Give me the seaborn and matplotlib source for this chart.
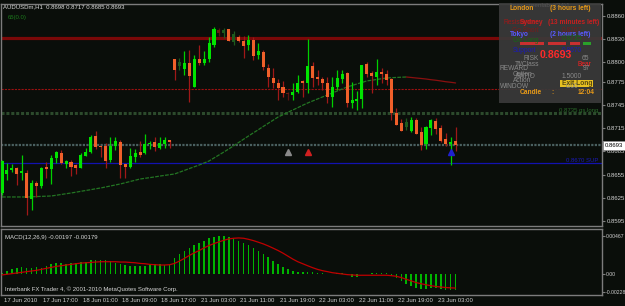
import numpy as np
import pandas as pd
import matplotlib
matplotlib.use("Agg")
import matplotlib.pyplot as plt
import seaborn as sns
from matplotlib.patches import Rectangle

sns.set_style("dark")
plt.rcParams['font.family'] = ['Liberation Sans', 'DejaVu Sans']

# ---------------- data (AUDUSDm, H1) ----------------
opens = [0.8631, 0.8656, 0.8661, 0.8664, 0.8657, 0.8657, 0.8624, 0.8644, 0.8640, 0.8665,
         0.8662, 0.8677, 0.8683, 0.8669, 0.8671, 0.8668, 0.8664, 0.8679, 0.8684, 0.8705,
         0.8692, 0.8692, 0.8674, 0.8692, 0.8697, 0.8669, 0.8665, 0.8678, 0.8684, 0.8683,
         0.8695, 0.8697, 0.8689, 0.8695, 0.8700, 0.8804, 0.8795, 0.8792, 0.8799, 0.8768,
         0.8804, 0.8799, 0.8804, 0.8823, 0.8842, 0.8838, 0.8843, 0.8826, 0.8833, 0.8828,
         0.8823, 0.8829, 0.8810, 0.8814, 0.8793, 0.8780, 0.8773, 0.8768, 0.8761, 0.8758,
         0.8762, 0.8776, 0.8773, 0.8795, 0.8781, 0.8779, 0.8773, 0.8755, 0.8768, 0.8779,
         0.8786, 0.8748, 0.8750, 0.8753, 0.8798, 0.8786, 0.8781, 0.8788, 0.8785, 0.8779,
         0.8735, 0.8722, 0.8717, 0.8711, 0.8726, 0.8710, 0.8695, 0.8715, 0.8724, 0.8715,
         0.8701, 0.8695, 0.8698]
highs = [0.8674, 0.8670, 0.8669, 0.8665, 0.8680, 0.8661, 0.8648, 0.8647, 0.8665, 0.8671,
         0.8680, 0.8686, 0.8687, 0.8674, 0.8674, 0.8669, 0.8683, 0.8689, 0.8706, 0.8711,
         0.8692, 0.8696, 0.8704, 0.8704, 0.8700, 0.8669, 0.8689, 0.8688, 0.8699, 0.8708,
         0.8699, 0.8704, 0.8704, 0.8704, 0.8700, 0.8804, 0.8806, 0.8815, 0.8816, 0.8810,
         0.8823, 0.8815, 0.8833, 0.8846, 0.8845, 0.8845, 0.8843, 0.8841, 0.8835, 0.8834,
         0.8835, 0.8833, 0.8825, 0.8816, 0.8798, 0.8793, 0.8779, 0.8776, 0.8762, 0.8773,
         0.8784, 0.8777, 0.8830, 0.8801, 0.8790, 0.8781, 0.8781, 0.8781, 0.8790, 0.8790,
         0.8788, 0.8775, 0.8763, 0.8797, 0.8801, 0.8789, 0.8804, 0.8793, 0.8790, 0.8780,
         0.8741, 0.8727, 0.8728, 0.8730, 0.8728, 0.8717, 0.8718, 0.8727, 0.8728, 0.8719,
         0.8709, 0.8704, 0.8717]
lows = [0.8629, 0.8648, 0.8658, 0.8642, 0.8648, 0.8603, 0.8609, 0.8626, 0.8638, 0.8651,
        0.8643, 0.8670, 0.8669, 0.8664, 0.8653, 0.8656, 0.8664, 0.8679, 0.8683, 0.8688,
        0.8678, 0.8664, 0.8671, 0.8687, 0.8651, 0.8651, 0.8664, 0.8671, 0.8678, 0.8682,
        0.8688, 0.8686, 0.8688, 0.8689, 0.8689, 0.8777, 0.8790, 0.8784, 0.8749, 0.8768,
        0.8797, 0.8797, 0.8801, 0.8820, 0.8834, 0.8832, 0.8828, 0.8823, 0.8826, 0.8806,
        0.8816, 0.8803, 0.8804, 0.8790, 0.8768, 0.8767, 0.8751, 0.8755, 0.8751, 0.8751,
        0.8761, 0.8755, 0.8761, 0.8768, 0.8771, 0.8764, 0.8748, 0.8742, 0.8764, 0.8773,
        0.8742, 0.8741, 0.8739, 0.8741, 0.8781, 0.8761, 0.8771, 0.8773, 0.8771, 0.8726,
        0.8719, 0.8711, 0.8713, 0.8710, 0.8708, 0.8687, 0.8688, 0.8706, 0.8708, 0.8697,
        0.8692, 0.8668, 0.8685]
closes = [0.8673, 0.8661, 0.8664, 0.8656, 0.8660, 0.8625, 0.8644, 0.8640, 0.8664, 0.8662,
          0.8677, 0.8684, 0.8670, 0.8673, 0.8665, 0.8664, 0.8680, 0.8684, 0.8704, 0.8691,
          0.8691, 0.8673, 0.8692, 0.8699, 0.8668, 0.8665, 0.8679, 0.8683, 0.8680, 0.8695,
          0.8696, 0.8691, 0.8696, 0.8700, 0.8697, 0.8790, 0.8801, 0.8799, 0.8783, 0.8804,
          0.8799, 0.8804, 0.8825, 0.8843, 0.8838, 0.8842, 0.8828, 0.8837, 0.8828, 0.8821,
          0.8829, 0.8808, 0.8815, 0.8794, 0.8781, 0.8773, 0.8767, 0.8761, 0.8759, 0.8762,
          0.8773, 0.8773, 0.8795, 0.8780, 0.8779, 0.8773, 0.8755, 0.8768, 0.8780, 0.8785,
          0.8748, 0.8751, 0.8753, 0.8797, 0.8785, 0.8783, 0.8788, 0.8785, 0.8777, 0.8735,
          0.8719, 0.8711, 0.8723, 0.8726, 0.8708, 0.8693, 0.8717, 0.8726, 0.8714, 0.8699,
          0.8695, 0.8697, 0.8693]
dim_bars = [36, 44, 45, 47, 58, 82]
ma_values = [0.86262, 0.86262, 0.86262, 0.86262, 0.86262, 0.86262, 0.86264, 0.86267, 0.86270, 0.86272,
             0.86275, 0.86284, 0.86294, 0.86304, 0.86313, 0.86324, 0.86335, 0.86346, 0.86356, 0.86368,
             0.86378, 0.86391, 0.86404, 0.86417, 0.86430, 0.86446, 0.86462, 0.86478, 0.86494, 0.86503,
             0.86512, 0.86521, 0.86532, 0.86541, 0.86550, 0.86559, 0.86582, 0.86605, 0.86629, 0.86652,
             0.86675, 0.86701, 0.86727, 0.86766, 0.86804, 0.86843, 0.86882, 0.86924, 0.86966, 0.87008,
             0.87050, 0.87091, 0.87131, 0.87173, 0.87214, 0.87254, 0.87295, 0.87325, 0.87356, 0.87386,
             0.87416, 0.87447, 0.87476, 0.87502, 0.87528, 0.87554, 0.87580, 0.87605, 0.87631, 0.87657,
             0.87683, 0.87702, 0.87722, 0.87741, 0.87761, 0.87770, 0.87780, 0.87790, 0.87799, 0.87803,
             0.87806, 0.87809, 0.87812, 0.87806, 0.87799, 0.87793, 0.87786, 0.87777, 0.87770, 0.87761,
             0.87751, 0.87744, 0.87735]
macd_hist = [0.00004, 0.00033, 0.00061, 0.00074, 0.00082, 0.00066, 0.00074, 0.00082, 0.00074, 0.00094,
             0.00115, 0.00135, 0.00135, 0.00123, 0.00127, 0.00135, 0.00143, 0.00147, 0.00164, 0.00164,
             0.00164, 0.00164, 0.00156, 0.00135, 0.00123, 0.00102, 0.00094, 0.00094, 0.00094, 0.00094,
             0.00106, 0.00123, 0.00123, 0.00106, 0.00106, 0.00197, 0.00246, 0.00287, 0.00319, 0.00360,
             0.00381, 0.00410, 0.00442, 0.00455, 0.00463, 0.00463, 0.00451, 0.00430, 0.00410, 0.00381,
             0.00352, 0.00319, 0.00287, 0.00246, 0.00205, 0.00156, 0.00115, 0.00082, 0.00053, 0.00033,
             0.00020, 0.00020, 0.00020, 0.00020, 0.00012, 0.00004, -0.00008, 0.00000, 0.00008, 0.00012,
             -0.00016, -0.00041, -0.00041, -0.00008, 0.00000, 0.00004, 0.00008, 0.00008, 0.00008, -0.00016,
             -0.00057, -0.00090, -0.00131, -0.00152, -0.00172, -0.00193, -0.00193, -0.00184, -0.00184, -0.00193,
             -0.00201, -0.00205, -0.00197]
macd_signal = [-0.00016, -0.00008, 0.00000, 0.00008, 0.00016, 0.00025, 0.00033, 0.00041, 0.00053, 0.00066,
               0.00078, 0.00090, 0.00098, 0.00107, 0.00115, 0.00123, 0.00131, 0.00135, 0.00139, 0.00144,
               0.00148, 0.00148, 0.00148, 0.00148, 0.00144, 0.00144, 0.00139, 0.00135, 0.00127, 0.00123,
               0.00115, 0.00111, 0.00107, 0.00107, 0.00111, 0.00127, 0.00156, 0.00189, 0.00226, 0.00258,
               0.00287, 0.00320, 0.00349, 0.00373, 0.00394, 0.00414, 0.00431, 0.00439, 0.00443, 0.00439,
               0.00426, 0.00410, 0.00390, 0.00369, 0.00344, 0.00316, 0.00287, 0.00254, 0.00217, 0.00180,
               0.00148, 0.00123, 0.00098, 0.00074, 0.00053, 0.00037, 0.00025, 0.00012, 0.00004, -0.00004,
               -0.00012, -0.00016, -0.00020, -0.00020, -0.00020, -0.00020, -0.00020, -0.00020, -0.00020, -0.00025,
               -0.00033, -0.00049, -0.00070, -0.00090, -0.00111, -0.00125, -0.00138, -0.00150, -0.00159, -0.00166,
               -0.00172, -0.00176, -0.00179]
time_labels = ["17 Jun 2010", "17 Jun 17:00", "18 Jun 01:00", "18 Jun 09:00", "18 Jun 17:00",
               "21 Jun 03:00", "21 Jun 11:00", "21 Jun 19:00", "22 Jun 03:00", "22 Jun 11:00",
               "22 Jun 19:00", "23 Jun 03:00"]
time_label_bars = [0, 8, 16, 24, 32, 40, 48, 56, 64, 72, 80, 88]
price_ticks = [0.8860, 0.8830, 0.8800, 0.8775, 0.8745, 0.8715, 0.8685, 0.8655, 0.8625, 0.8595]
macd_ticks = [0.00467, 0.0, -0.00228]
macd_tick_labels = ["0.00467", "0.00", "-0.00228"]
resistance_level = 0.8831
go_short_level = 0.8766
go_long_level = 0.8735
support_level = 0.8670
last_price = 0.8693
arrow_bars = [58, 62, 91]
arrow_prices = [0.8684, 0.8684, 0.8684]
arrow_colors = ["#8a8a8a", "#d02020", "#2020d0"]

# ---------------- figure ----------------
BG = "#0a0e0a"
GRID = "#7c7c7c"
W, H = 625, 306
fig = plt.figure(figsize=(W / 100, H / 100), dpi=100, facecolor=BG)
FS = 4.3


def fr(x0, y0, x1, y1):
    return [x0 / W, 1 - y1 / H, (x1 - x0) / W, (y1 - y0) / H]


def fx(x):
    return x / W


def fy(y):
    return 1 - y / H


ax = fig.add_axes(fr(1, 4, 602, 226))
axm = fig.add_axes(fr(1, 229, 602, 295))
for a in (ax, axm):
    a.set_facecolor(BG)
    a.grid(False)
    for s in a.spines.values():
        s.set_color(GRID)
        s.set_linewidth(1.0)

n = len(closes)
idx = np.arange(n)
df = pd.DataFrame({"bar": idx, "open": opens, "high": highs, "low": lows, "close": closes,
                   "ma": ma_values, "hist": macd_hist, "signal": macd_signal})
df["bull"] = df["close"] >= df["open"]
df["dim"] = df["bar"].isin(dim_bars)

# horizontal levels
ax.axhline(resistance_level, color="#7a0808", lw=2.3, zorder=1)
ax.axhline(go_short_level, color="#9a1010", lw=0.8, ls=(0, (2, 1)), zorder=1)
ax.axhline(go_long_level, color="#2c4a2c", lw=2.2, ls=(0, (1, 0.6)), zorder=1)
ax.axhline(last_price, color="#4a6060", lw=1.6, ls=(0, (1, 0.6)), zorder=1)
ax.axhline(support_level, color="#1212b0", lw=0.9, zorder=1)

# moving average
rising = df[df["bar"] <= 82]
falling = df[df["bar"] >= 82]
sns.lineplot(data=rising, x="bar", y="ma", ax=ax, color="#237523", lw=0.9, ls=(0, (3, 1)), zorder=2)
sns.lineplot(data=falling, x="bar", y="ma", ax=ax, color="#8a1010", lw=0.9, zorder=2)

# candles
styles = [
    (df["bull"] & ~df["dim"], "#00d000", "#00e400"),
    (~df["bull"] & ~df["dim"], "#a01818", "#f0602a"),
    (df["bull"] & df["dim"], "#1d5a1d", "#1d5a1d"),
    (~df["bull"] & df["dim"], "#5a1212", "#6a1a12"),
]
mh = 0.00006
for mask, wick_c, body_c in styles:
    sub = df[mask]
    ax.vlines(sub["bar"], sub["low"], sub["high"], color=wick_c, lw=0.9, zorder=3)
    ax.bar(sub["bar"], np.maximum((sub["close"] - sub["open"]).abs(), mh),
           bottom=np.minimum(sub["open"], sub["close"]),
           width=0.62, color=body_c, linewidth=0, zorder=4)

# arrows
for b, p, c in zip(arrow_bars, arrow_prices, arrow_colors):
    ax.plot(b, p, marker="^", color=c, ms=4, mec=c, zorder=5)

ax.set_xlim(-0.2, 121.7)
ax.set_ylim(0.85887, 0.88755)
ax.set_xticks([])
ax.yaxis.tick_right()
ax.set_yticks(price_ticks)
ax.set_yticklabels([f"{t:.4f}" for t in price_ticks])
ax.tick_params(axis="y", colors=GRID, labelcolor="#d0d0d0", labelsize=FS, length=2.5, width=0.8, pad=1)
ax.set_xlabel("")
ax.set_ylabel("")

# MACD panel
axm.bar(df["bar"], df["hist"], width=0.32, color="#00b400", linewidth=0, zorder=2)
sns.lineplot(data=df, x="bar", y="signal", ax=axm, color="#c00000", lw=0.9, zorder=3)
axm.set_xlim(-0.2, 121.7)
axm.set_ylim(-0.00265, 0.00554)
axm.yaxis.tick_right()
axm.set_yticks(macd_ticks)
axm.set_yticklabels(macd_tick_labels)
axm.tick_params(axis="y", colors=GRID, labelcolor="#d0d0d0", labelsize=3.7, length=2, width=0.8, pad=0.8)
axm.set_xticks(time_label_bars)
axm.set_xticklabels([])
axm.tick_params(axis="x", colors=GRID, length=3, width=0.8)
axm.set_xlabel("")
axm.set_ylabel("")
for b, lab in zip(time_label_bars, time_labels):
    axm.annotate(lab, xy=(b, 0), xycoords=("data", "axes fraction"), xytext=(1.2, -2.5),
                 textcoords="offset points", ha="left", va="top", fontsize=FS, color="#d0d0d0")

# ---------------- texts ----------------
TXT = "#d8d8d8"
fig.text(fx(3), fy(7), "AUDUSDm,H1  0.8698 0.8717 0.8685 0.8693", color=TXT, fontsize=FS, va="center")
fig.text(fx(8), fy(17), "65(0.0)", color="#1c7a1c", fontsize=FS, va="center")
fig.text(fx(5), fy(237), "MACD(12,26,9) -0.00197 -0.00179", color=TXT, fontsize=FS, va="center")
fig.text(fx(5), fy(289), "Interbank FX Trader 4, \u00a9 2001-2010 MetaQuotes Software Corp.",
         color=TXT, fontsize=FS, va="center")
fig.text(fx(598), fy(110), "0.8735 gs.long", color="#2a6a2a", fontsize=FS, va="center", ha="right")
fig.text(fx(598), fy(160), "0.8670 SUP", color="#1a1ab8", fontsize=FS, va="center", ha="right")

# current price box
fig.patches.append(Rectangle((fx(603), fy(150)), 22 / W, 9 / H, transform=fig.transFigure,
                             facecolor="white", edgecolor="#909090", lw=0.6))
fig.text(fx(604.5), fy(145.5), f"{last_price:.4f}", color="black", fontsize=FS, va="center")

# info box
fig.patches.append(Rectangle((fx(499), fy(103)), 102 / W, 100 / H, transform=fig.transFigure,
                             facecolor="#3a3a3a", edgecolor="none", alpha=0.92, zorder=5))
ORG = "#e89a18"
GR = "#8a8a8a"
info = [
    (510, 5, "forex-greenlabel(24)1", "#555555", 4.6, "normal"),
    (510, 9, "London", ORG, 4.8, "bold"),
    (550, 9, "(3 hours left)", ORG, 4.8, "bold"),
    (503, 22, "Resistance", "#a01818", 4.8, "normal"),
    (520, 22, "Sydney", "#c82020", 4.8, "bold"),
    (548, 22, "(13 minutes left)", "#c82020", 4.8, "bold"),
    (512, 31, "Go Short", "#7a1a1a", 4.8, "normal"),
    (562, 31, "0.8767", "#7a1a1a", 4.8, "normal"),
    (510, 35, "Tokyo", "#5a5aff", 4.8, "bold"),
    (550, 35, "(2 hours left)", "#5a5aff", 4.8, "bold"),
    (513, 40, "Go Long", "#146a14", 4.8, "normal"),
    (562, 39, "0.8735", "#146a14", 4.8, "normal"),
    (513, 50, "Support", "#1a1ab8", 4.8, "normal"),
    (562, 50, "0.8670", "#1a1ab8", 4.8, "normal"),
    (540, 55, "0.8693", "#ff2a2a", 7.6, "bold"),
    (523, 59, "RISK", GR, 4.8, "normal"),
    (582, 58, "65", GR, 4.8, "normal"),
    (515, 65, "Tf/Class", GR, 4.8, "normal"),
    (578, 64, "Bear", "#ff2020", 4.8, "normal"),
    (500, 68, "REWARD", GR, 4.8, "normal"),
    (583, 69, "97", GR, 4.8, "normal"),
    (513, 74, "Option", GR, 4.8, "normal"),
    (515, 77, "RATIO", GR, 4.8, "normal"),
    (562, 77, "1.5000", GR, 4.8, "normal"),
    (513, 81, "Action", GR, 4.8, "normal"),
    (500, 86, "WINDOW", GR, 4.8, "normal"),
    (566, 86, "0.00", GR, 4.8, "normal"),
    (520, 93, "Candle", ORG, 4.8, "bold"),
    (551, 93, ":", ORG, 4.8, "bold"),
    (578, 93, "12:04", ORG, 4.8, "bold"),
]
# strength bar
for x0, x1, c in [(520, 544, "#c83030"), (548, 566, "#c83030"), (570, 580, "#c83030"), (583, 591, "#2aa02a")]:
    fig.patches.append(Rectangle((fx(x0), fy(45)), (x1 - x0) / W, 3 / H, transform=fig.transFigure,
                                 facecolor=c, edgecolor="none", zorder=6))
fig.patches.append(Rectangle((fx(560), fy(87)), 33 / W, 7 / H, transform=fig.transFigure,
                             facecolor="#e8c020", edgecolor="none", zorder=6))
info.append((562, 83.5, "Exit Long", "#5a4a10", 4.8, "bold"))
for x, y, s, c, fs, wt in info:
    fig.text(fx(x), fy(y), s, color=c, fontsize=fs, fontweight=wt, va="center", zorder=7)

fig.savefig("out.png", dpi=100, facecolor=BG)
